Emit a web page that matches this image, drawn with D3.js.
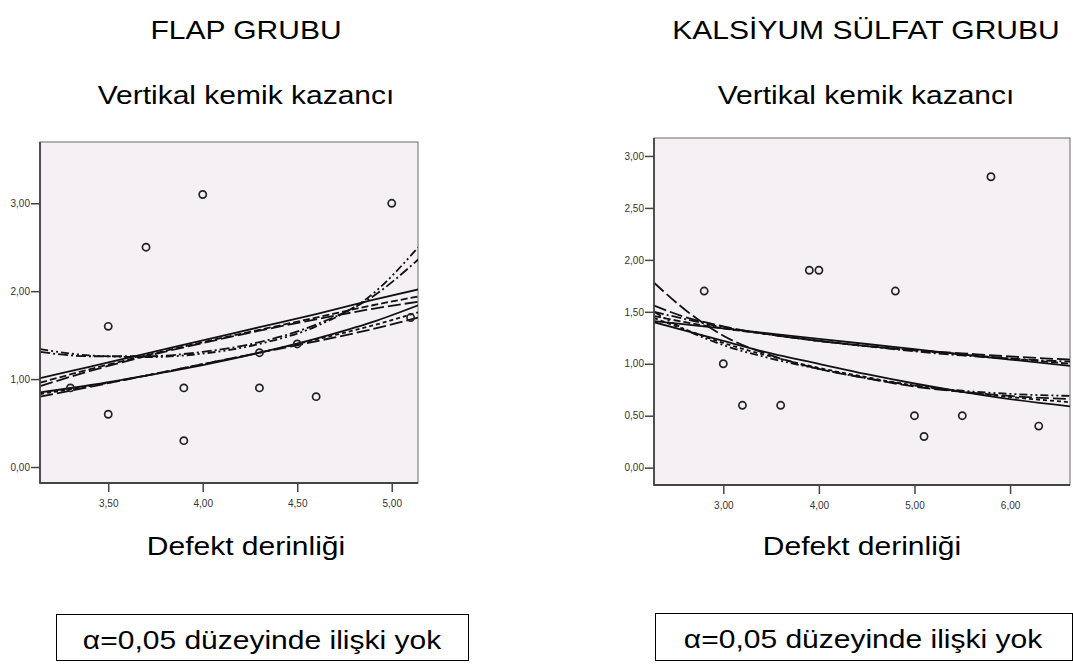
<!DOCTYPE html>
<html>
<head>
<meta charset="utf-8">
<script src="https://cdn.jsdelivr.net/npm/d3@7"></script>
<style>
  html, body { margin: 0; padding: 0; background: #fff; }
  svg { display: block; font-family: "Liberation Sans", Arial, sans-serif; }
</style>
</head>
<body>
<svg id="chart" width="1073" height="668"></svg>
<script>
// ---- FLAP GRUBU: observations ----
const flapX = [3.3, 3.5, 3.5, 3.7, 3.9, 3.9, 4.0, 4.3, 4.3, 4.5, 4.6, 5.0, 5.1];
const flapY = [0.9, 1.6, 0.6, 2.5, 0.9, 0.3, 3.1, 1.3, 0.9, 1.4, 0.8, 3.0, 1.7];

// ---- FLAP GRUBU: fitted curves, sampled along the x range ----
const flapFitX      = [3.14, 3.40, 3.70, 4.00, 4.30, 4.60, 4.90, 5.14];
const flapLinear    = [1.01, 1.14, 1.29, 1.44, 1.59, 1.74, 1.90, 2.02];
const flapLog       = [0.96, 1.11, 1.27, 1.42, 1.56, 1.70, 1.84, 1.94];
const flapInverse   = [0.92, 1.09, 1.26, 1.41, 1.55, 1.68, 1.80, 1.88];
const flapQuadratic = [1.31, 1.26, 1.26, 1.31, 1.42, 1.62, 1.94, 2.36];
const flapCubic     = [1.34, 1.27, 1.25, 1.29, 1.40, 1.60, 1.97, 2.50];
const flapExp       = [0.85, 0.93, 1.04, 1.16, 1.30, 1.46, 1.65, 1.84];
const flapPower     = [0.83, 0.92, 1.04, 1.17, 1.30, 1.45, 1.61, 1.76];
const flapS         = [0.80, 0.91, 1.04, 1.17, 1.30, 1.43, 1.57, 1.70];

const flapXTicks = [3.5, 4.0, 4.5, 5.0];
const flapXTickLabels = ["3,50", "4,00", "4,50", "5,00"];
const flapYTicks = [0, 1, 2, 3];
const flapYTickLabels = ["0,00", "1,00", "2,00", "3,00"];

// ---- KALSİYUM SÜLFAT GRUBU: observations ----
const kalsX = [2.8, 3.0, 3.2, 3.6, 3.9, 4.0, 4.8, 5.0, 5.1, 5.5, 5.8, 6.3];
const kalsY = [1.7, 1.0, 0.6, 0.6, 1.9, 1.9, 1.7, 0.5, 0.3, 0.5, 2.8, 0.4];

// ---- KALSİYUM SÜLFAT GRUBU: fitted curves ----
const kalsFitX      = [2.275, 2.6, 3.0, 3.5, 4.0, 4.5, 5.0, 5.5, 6.0, 6.627];
const kalsLinear    = [1.41, 1.38, 1.34, 1.29, 1.24, 1.19, 1.14, 1.09, 1.04, 0.98];
const kalsLog       = [1.46, 1.40, 1.34, 1.28, 1.22, 1.17, 1.13, 1.09, 1.05, 1.00];
const kalsInverse   = [1.56, 1.45, 1.36, 1.28, 1.22, 1.17, 1.13, 1.10, 1.07, 1.04];
const kalsQuadratic = [1.50, 1.43, 1.35, 1.28, 1.22, 1.17, 1.12, 1.08, 1.05, 1.02];
const kalsExp       = [1.40, 1.32, 1.22, 1.10, 1.00, 0.90, 0.81, 0.73, 0.66, 0.59];
const kalsPower     = [1.44, 1.33, 1.20, 1.07, 0.96, 0.87, 0.79, 0.73, 0.68, 0.63];
const kalsS         = [1.78, 1.52, 1.27, 1.08, 0.95, 0.86, 0.78, 0.73, 0.69, 0.66];
const kalsCubic     = [1.50, 1.33, 1.18, 1.05, 0.95, 0.86, 0.79, 0.74, 0.71, 0.69];

const kalsXTicks = [3, 4, 5, 6];
const kalsXTickLabels = ["3,00", "4,00", "5,00", "6,00"];
const kalsYTicks = [0, 0.5, 1, 1.5, 2, 2.5, 3];
const kalsYTickLabels = ["0,00", "0,50", "1,00", "1,50", "2,00", "2,50", "3,00"];

const svg = d3.select("#chart");

// Line styles for the curve models
const styles = {
  solid:    null,
  dash:     "7,3",
  longdash: "13,4",
  dashdot:  "10,3,2,3",
  dashdot2: "8,3,2,3,2,3",
  shortdash:"4,3"
};

// Stretched caption text (the captions are set a little wide)
function caption(cx, baseline, str) {
  svg.append("text")
    .attr("transform", `translate(${cx},${baseline}) scale(1.2,1)`)
    .attr("text-anchor", "middle")
    .attr("font-size", 25)
    .attr("fill", "#000")
    .text(str);
}

function panel(cfg) {
  const x = d3.scaleLinear().domain(cfg.xDomain).range([cfg.left, cfg.right]);
  const y = d3.scaleLinear().domain(cfg.yDomain).range([cfg.bottom, cfg.top]);
  const g = svg.append("g");
  const clipId = "clip-" + cfg.id;

  g.append("clipPath").attr("id", clipId)
    .append("rect")
    .attr("x", cfg.left).attr("y", cfg.top)
    .attr("width", cfg.right - cfg.left).attr("height", cfg.bottom - cfg.top);

  // plot background + frame
  g.append("rect")
    .attr("x", cfg.left).attr("y", cfg.top)
    .attr("width", cfg.right - cfg.left).attr("height", cfg.bottom - cfg.top)
    .attr("fill", "#f4f0f4")
    .attr("stroke", "#6a6a6a").attr("stroke-width", 1);

  // fitted curves
  const line = d3.line()
    .x(d => x(d[0])).y(d => y(d[1]))
    .curve(d3.curveMonotoneX);
  const curves = g.append("g").attr("clip-path", `url(#${clipId})`);
  cfg.fits.forEach(f => {
    const pts = cfg.fitX.map((xv, i) => [xv, f.values[i]]);
    curves.append("path")
      .attr("d", line(pts))
      .attr("fill", "none")
      .attr("stroke", "#111")
      .attr("stroke-width", 1.8)
      .attr("stroke-dasharray", f.dash)
      .attr("stroke-linecap", "butt");
  });

  // observations
  g.append("g").selectAll("circle")
    .data(cfg.xs.map((xv, i) => [xv, cfg.ys[i]]))
    .join("circle")
    .attr("cx", d => x(d[0])).attr("cy", d => y(d[1]))
    .attr("r", 3.6)
    .attr("fill", "none")
    .attr("stroke", "#222")
    .attr("stroke-width", 1.7);

  // axes
  const yAxis = d3.axisLeft(y)
    .tickValues(cfg.yTicks)
    .tickFormat((d, i) => cfg.yTickLabels[i])
    .tickSize(9).tickPadding(1);
  const xAxis = d3.axisBottom(x)
    .tickValues(cfg.xTicks)
    .tickFormat((d, i) => cfg.xTickLabels[i])
    .tickSize(9).tickPadding(8);

  const ya = g.append("g").attr("transform", `translate(${cfg.left},0)`).call(yAxis);
  const xa = g.append("g").attr("transform", `translate(0,${cfg.bottom})`).call(xAxis);
  [ya, xa].forEach(a => {
    a.select(".domain").remove();
    a.selectAll(".tick line").attr("stroke", "#444").attr("stroke-width", 1.5);
    a.selectAll(".tick text")
      .attr("fill", "#333")
      .attr("font-size", 10)
      .attr("font-family", "Liberation Sans, Arial, sans-serif");
  });

  // axis lines
  g.append("line")
    .attr("x1", cfg.left).attr("x2", cfg.left)
    .attr("y1", cfg.top).attr("y2", cfg.bottom + 0.75)
    .attr("stroke", "#444").attr("stroke-width", 1.8);
  g.append("line")
    .attr("x1", cfg.left).attr("x2", cfg.right)
    .attr("y1", cfg.bottom).attr("y2", cfg.bottom)
    .attr("stroke", "#444").attr("stroke-width", 1.8);
}

panel({
  id: "flap",
  left: 40, right: 418, top: 142, bottom: 483,
  xDomain: [3.139, 5.139], yDomain: [-0.182, 3.697],
  xs: flapX, ys: flapY,
  fitX: flapFitX,
  fits: [
    { values: flapLinear,    dash: styles.solid },
    { values: flapLog,       dash: styles.dash },
    { values: flapInverse,   dash: styles.longdash },
    { values: flapQuadratic, dash: styles.dashdot },
    { values: flapCubic,     dash: styles.dashdot2 },
    { values: flapExp,       dash: styles.solid },
    { values: flapPower,     dash: styles.shortdash },
    { values: flapS,         dash: styles.longdash }
  ],
  xTicks: flapXTicks, xTickLabels: flapXTickLabels,
  yTicks: flapYTicks, yTickLabels: flapYTickLabels
});

panel({
  id: "kals",
  left: 654, right: 1070, top: 138, bottom: 485,
  xDomain: [2.275, 6.627], yDomain: [-0.167, 3.173],
  xs: kalsX, ys: kalsY,
  fitX: kalsFitX,
  fits: [
    { values: kalsLinear,    dash: styles.solid },
    { values: kalsLog,       dash: styles.dash },
    { values: kalsInverse,   dash: styles.longdash },
    { values: kalsQuadratic, dash: styles.dashdot },
    { values: kalsExp,       dash: styles.solid },
    { values: kalsPower,     dash: styles.shortdash },
    { values: kalsS,         dash: styles.longdash },
    { values: kalsCubic,     dash: styles.dashdot2 }
  ],
  xTicks: kalsXTicks, xTickLabels: kalsXTickLabels,
  yTicks: kalsYTicks, yTickLabels: kalsYTickLabels
});

// Captions
caption(246, 39, "FLAP GRUBU");
caption(866, 39, "KALSİYUM SÜLFAT GRUBU");
caption(246, 104, "Vertikal kemik kazancı");
caption(866, 104, "Vertikal kemik kazancı");
caption(246, 555, "Defekt derinliği");
caption(862, 555, "Defekt derinliği");

// Conclusion boxes
const boxes = [
  { x: 56, y: 614, w: 412, h: 46, cx: 262 },
  { x: 655, y: 613, w: 417, h: 47, cx: 863 }
];
boxes.forEach(b => {
  svg.append("rect")
    .attr("x", b.x + 0.5).attr("y", b.y + 0.5)
    .attr("width", b.w).attr("height", b.h)
    .attr("fill", "none").attr("stroke", "#000").attr("stroke-width", 1);
  caption(b.cx, b.y + 35, "α=0,05 düzeyinde ilişki yok");
});
</script>
</body>
</html>
